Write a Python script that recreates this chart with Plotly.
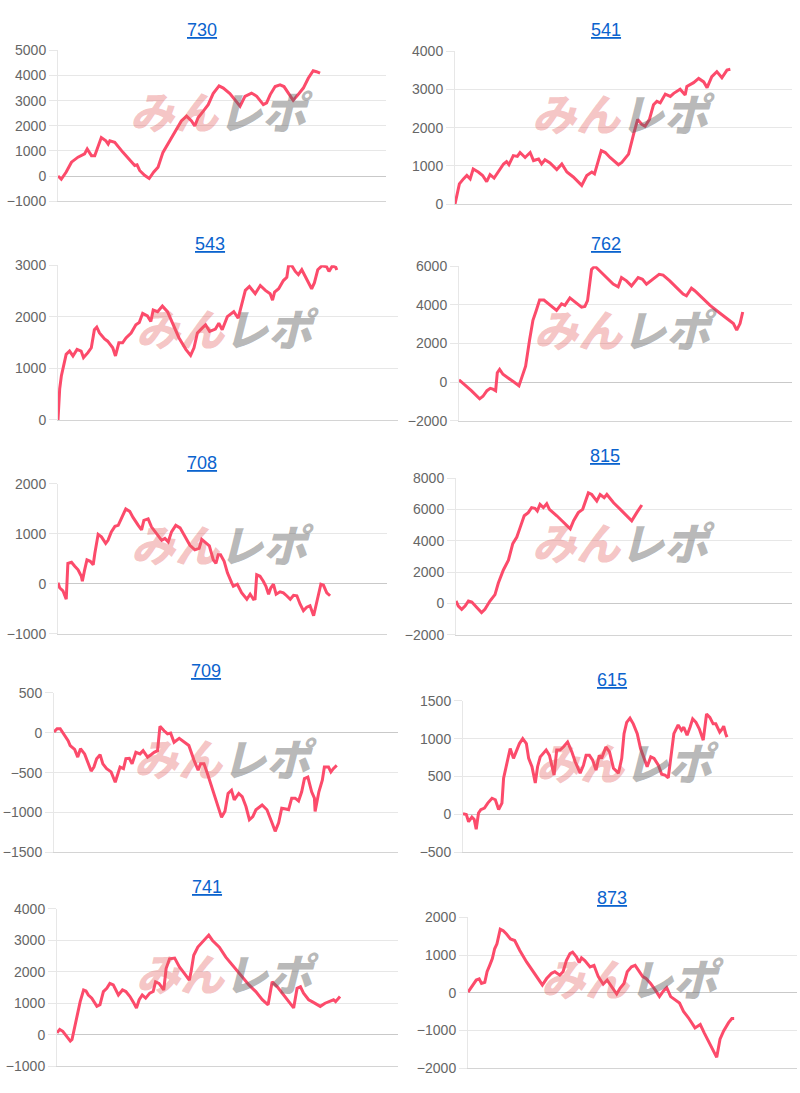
import plotly.graph_objects as go

# ---------------- data (x = position along the horizontal axis, 0..100) ----------------
titles = ["730", "541", "543", "762", "708", "815", "709", "615", "741", "873"]

pts_730 = [(0,0),(1.0,-130),(2.5,160),(4.1,550),(6.1,750),(8.1,880),(8.9,1075),(10.2,810),(11.2,810),(12.2,1140),(13.2,1530),(14.6,1400),(15.3,1270),(15.8,1400),(17.3,1340),(19.8,940),(22.4,550),(23.4,420),(24.1,445),(24.9,220),(26.4,26),(27.8,-100),(29.2,160),(30.5,350),(32.0,940),(34.1,1400),(36.1,1860),(37.6,2190),(39.2,2385),(40.7,2190),(41.7,1990),(42.7,2320),(44.3,2580),(45.8,2840),(47.3,3280),(49.1,3590),(50.4,3500),(52.4,3280),(53.9,3040),(55.5,2780),(57.0,3170),(59.0,3300),(60.6,3170),(62.6,2840),(63.6,2910),(64.7,3240),(66.2,3560),(67.7,3630),(68.9,3560),(70.2,3300),(71.7,3010),(73.2,3240),(74.8,3500),(76.3,3890),(77.8,4190),(78.8,4150),(79.9,4090)]

pts_541 = [(0,0),(0.7,320),(1.3,530),(2.5,660),(3.5,750),(4.5,660),(5.4,920),(6.9,840),(8.2,750),(9.4,590),(10.4,770),(11.6,680),(12.9,840),(14.4,1050),(15.3,1110),(16.0,1030),(17.3,1270),(18.5,1250),(19.3,1350),(20.8,1220),(22.3,1350),(23.3,1140),(24.8,1180),(25.7,1050),(26.7,1160),(28.2,1080),(30.2,905),(31.7,1050),(33.2,840),(35.1,710),(37.6,490),(39.1,750),(40.6,840),(41.4,790),(43.4,1400),(44.6,1350),(46.0,1220),(48.5,1030),(49.5,1090),(51.5,1310),(53.0,1830),(54.2,2220),(55.4,2090),(56.4,2040),(57.7,2220),(58.9,2600),(59.9,2690),(60.9,2650),(62.4,2880),(63.9,2820),(64.9,2900),(66.8,3010),(68.3,2860),(68.8,3080),(70.8,3180),(72.3,3290),(73.8,3200),(74.8,3050),(76.2,3340),(77.7,3470),(79.2,3310),(80.7,3510),(81.7,3530)]

pts_543 = [(0,0),(0.5,604),(1.0,858),(1.7,1049),(2.4,1271),(3.4,1335),(4.4,1240),(5.6,1367),(6.8,1335),(7.5,1208),(8.8,1303),(9.8,1399),(10.7,1748),(11.4,1799),(12.2,1685),(13.7,1570),(14.6,1526),(16.1,1399),(16.9,1240),(17.9,1494),(19.0,1494),(20.0,1589),(21.5,1685),(22.9,1844),(23.9,1888),(24.9,2066),(26.3,2015),(27.3,1907),(28.0,2130),(29.3,2098),(30.7,2206),(32.2,2098),(33.7,1875),(35.6,1589),(37.6,1367),(39.0,1252),(40.0,1399),(41.0,1685),(42.4,1780),(43.4,1844),(44.6,1716),(46.3,1761),(47.3,1875),(48.3,1748),(49.8,2003),(51.7,2098),(53.0,1971),(54.1,2257),(55.1,2511),(56.3,2587),(58.0,2447),(59.5,2606),(61.0,2511),(62.4,2447),(63.1,2320),(63.7,2479),(64.9,2543),(66.3,2702),(67.3,2765),(67.8,2987),(68.8,2987),(69.8,2879),(70.7,2816),(71.7,2911),(72.7,2784),(73.7,2657),(74.6,2543),(75.4,2657),(76.4,2911),(77.6,2987),(79.0,2968),(79.7,2879),(80.7,2987),(81.7,2956),(82.0,2905)]

pts_762 = [(0,120),(1.2,-50),(3.7,-440),(6.2,-860),(7.2,-730),(8.4,-440),(9.4,-320),(10.2,-360),(11.0,-440),(11.5,490),(12.2,660),(13.2,410),(14.7,240),(16.7,-20),(18.0,-190),(18.7,150),(20.0,830),(21.2,2190),(22.2,3200),(23.2,3710),(24.2,4250),(25.5,4250),(26.8,4050),(28.3,3850),(29.3,3710),(30.8,4050),(31.8,3970),(33.3,4360),(34.8,4140),(36.8,3880),(37.8,3920),(38.6,4220),(39.8,5830),(40.8,6000),(42.3,5750),(44.8,5320),(46.3,5070),(47.8,4930),(48.8,5410),(50.3,5240),(51.8,4980),(53.8,5410),(55.1,5320),(56.3,5070),(58.3,5320),(60.1,5580),(61.3,5540),(63.3,5240),(65.8,4810),(67.3,4560),(68.3,4470),(69.8,4860),(70.8,4730),(73.3,4310),(75.4,3970),(77.9,3630),(80.4,3290),(82.4,3030),(83.4,2690),(84.4,3030),(85.2,3630)]

pts_708 = [(0,20),(0.5,-80),(1.5,-140),(2.5,-310),(3.0,410),(4.1,430),(5.1,350),(6.1,280),(7.1,150),(7.4,50),(8.1,280),(8.8,480),(9.8,450),(10.7,380),(11.2,610),(12.2,990),(13.2,940),(14.5,810),(15.2,870),(16.2,1040),(17.3,1150),(18.3,1170),(19.0,1270),(20.6,1500),(21.8,1450),(22.8,1330),(24.4,1170),(25.4,1080),(26.1,1270),(27.4,1300),(28.4,1140),(29.9,1000),(31.5,870),(32.5,910),(33.5,840),(34.5,1040),(35.8,1170),(37.1,1120),(38.6,940),(40.1,770),(41.6,680),(42.9,710),(43.7,890),(45.0,820),(46.0,760),(47.2,480),(48.0,410),(48.7,580),(49.4,580),(50.5,450),(51.5,220),(52.8,20),(53.3,-50),(54.5,-10),(55.8,-180),(57.4,-310),(58.4,-210),(59.4,-310),(59.9,-300),(60.4,180),(61.4,150),(62.4,50),(63.2,-50),(64.0,-210),(64.7,-80),(65.5,-10),(66.3,-210),(67.5,-160),(68.5,-180),(69.5,-240),(70.6,-310),(71.6,-230),(72.6,-240),(73.6,-410),(74.6,-540),(75.6,-470),(76.6,-440),(77.7,-640),(78.7,-370),(79.9,-10),(80.7,-30),(81.7,-180),(82.7,-240)]

pts_815 = [(0,150),(0.7,-170),(1.7,-380),(2.7,-170),(3.7,150),(4.7,80),(6.2,-270),(7.6,-590),(8.6,-380),(10.1,150),(11.6,560),(12.6,1300),(14.1,2130),(15.6,2760),(16.9,3810),(18.1,4230),(19.1,4850),(20.3,5590),(21.5,5790),(22.5,6110),(23.5,6070),(24.2,5900),(25.0,6320),(26.0,6110),(27.0,6360),(27.8,6000),(30.0,5590),(32.0,5170),(34.0,4750),(35.0,5270),(36.4,5790),(37.7,6000),(39.4,7050),(40.4,6950),(41.9,6530),(42.9,6950),(44.1,6740),(44.9,6950),(46.9,6420),(48.9,6000),(50.8,5590),(52.3,5270),(53.8,5790),(55.3,6280)]

pts_709 = [(0,10),(0.9,50),(1.8,50),(3.1,-40),(4.1,-100),(4.7,-160),(6.0,-210),(6.9,-305),(7.7,-200),(8.9,-265),(9.8,-365),(10.8,-480),(11.6,-430),(12.4,-325),(13.4,-275),(14.2,-390),(15.3,-450),(16.6,-490),(17.8,-620),(18.5,-530),(19.2,-430),(20.2,-450),(20.9,-325),(21.9,-320),(22.7,-390),(23.8,-245),(25.0,-265),(25.9,-225),(27.2,-305),(28.2,-275),(29.1,-245),(30.1,-225),(30.8,80),(32.0,25),(33.0,-15),(33.9,-5),(34.9,-120),(36.4,-70),(37.8,-120),(39.2,-160),(40.7,-345),(41.9,-470),(42.6,-390),(43.6,-390),(44.6,-510),(46.0,-695),(47.4,-880),(48.7,-1060),(49.7,-985),(50.6,-760),(51.6,-720),(52.4,-840),(53.7,-760),(54.7,-800),(55.8,-925),(56.8,-1090),(57.8,-1050),(58.7,-965),(60.5,-905),(61.9,-965),(63.2,-1110),(64.3,-1235),(65.3,-1130),(66.2,-945),(67.4,-955),(68.2,-965),(69.1,-820),(70.1,-820),(71.1,-855),(72.0,-740),(72.8,-575),(73.8,-555),(74.9,-740),(75.7,-820),(75.9,-985),(77.0,-740),(78.0,-595),(78.6,-430),(79.8,-430),(80.5,-490),(81.2,-450),(82.2,-410)]

pts_615 = [(0,10),(1.0,0),(1.7,-95),(2.7,-35),(3.4,-65),(4.0,-195),(4.7,20),(5.4,65),(6.5,85),(7.5,150),(8.8,215),(9.8,195),(10.8,65),(11.8,150),(12.3,480),(13.3,695),(14.3,870),(15.3,740),(16.3,850),(17.1,935),(18.1,1000),(19.2,935),(19.9,740),(20.9,630),(21.9,415),(22.6,630),(23.4,760),(25.2,850),(26.2,780),(27.6,520),(28.4,850),(29.4,850),(30.4,890),(31.7,955),(33.0,825),(34.0,695),(35.5,545),(36.5,650),(37.3,780),(38.3,780),(39.3,715),(40.3,585),(41.3,780),(42.0,740),(43.3,890),(44.4,825),(45.6,610),(47.1,545),(48.1,740),(48.8,1065),(49.6,1215),(50.6,1270),(51.6,1195),(52.8,1065),(53.8,870),(54.8,740),(55.8,630),(56.9,760),(57.9,740),(59.2,650),(60.2,530),(61.2,520),(62.2,485),(63.2,825),(63.9,1065),(65.2,1180),(66.2,1110),(66.9,1150),(67.9,1045),(68.8,1150),(69.6,1260),(70.6,1215),(71.6,1130),(72.8,980),(73.8,1325),(74.8,1280),(75.8,1195),(76.6,1195),(77.8,1085),(78.6,1130),(79.0,1165),(79.6,1065),(80.0,1020)]

pts_741 = [(0,60),(0.8,170),(1.7,110),(2.7,-40),(3.9,-200),(4.4,-150),(5.0,170),(5.6,430),(6.3,850),(6.8,1050),(7.8,1420),(8.5,1390),(9.2,1260),(10.2,1160),(11.7,900),(12.6,950),(13.6,1370),(14.6,1470),(15.5,1630),(16.5,1580),(18.0,1260),(19.2,1420),(20.2,1370),(21.4,1210),(22.3,1050),(23.3,850),(24.1,1110),(25.0,1260),(26.0,1160),(27.2,1320),(28.2,1370),(28.9,1680),(29.9,1630),(31.3,1420),(32.0,2100),(33.0,2410),(34.5,2430),(35.9,2150),(37.4,1940),(38.8,1730),(39.3,1990),(40.1,2520),(41.3,2780),(42.2,2880),(43.5,3040),(44.5,3160),(45.6,2990),(47.6,2780),(49.5,2460),(51.5,2200),(53.9,1890),(56.3,1580),(58.3,1370),(60.2,1110),(61.9,950),(63.1,1680),(64.6,1520),(66.0,1320),(67.5,1110),(69.4,850),(70.4,1470),(71.4,1520),(72.3,1320),(73.8,1110),(74.8,1050),(76.2,950),(77.2,900),(78.6,1000),(80.1,1080),(81.1,1110),(81.7,1050),(82.5,1160),(83.0,1210)]

pts_873 = [(0,20),(0.7,120),(1.5,210),(2.5,340),(3.4,370),(4.1,250),(5.1,280),(5.8,560),(6.6,730),(7.4,910),(8.1,1170),(8.8,1300),(9.8,1690),(10.7,1650),(11.7,1560),(12.9,1430),(14.2,1390),(15.7,1130),(17.8,820),(19.8,560),(21.3,380),(22.6,210),(23.9,380),(25.4,520),(26.4,560),(27.9,470),(28.9,560),(29.9,860),(31.0,1040),(31.8,1080),(33.0,950),(33.8,800),(34.5,930),(35.5,860),(37.1,690),(38.3,730),(39.6,430),(41.1,230),(42.3,340),(43.7,170),(45.2,-30),(46.2,120),(47.4,250),(48.4,560),(49.7,690),(50.8,730),(51.8,600),(53.1,430),(54.1,380),(55.5,250),(56.9,80),(58.2,-100),(59.4,50),(60.4,140),(61.6,-100),(62.9,-180),(64.3,-270),(65.5,-490),(67.0,-660),(69.0,-930),(70.6,-840),(71.8,-1060),(73.6,-1360),(74.6,-1540),(75.6,-1710),(76.6,-1230),(77.7,-1010),(79.2,-790),(80.2,-680),(80.9,-680)]

series = [pts_730, pts_541, pts_543, pts_762, pts_708, pts_815, pts_709, pts_615, pts_741, pts_873]

y_ranges = [(-1000, 5000), (0, 4000), (0, 3000), (-2000, 6000), (-1000, 2000),
            (-2000, 8000), (-1500, 500), (-500, 1500), (-1000, 4000), (-2000, 2000)]
y_dticks = [1000, 1000, 1000, 2000, 1000, 2000, 500, 500, 1000, 1000]

# ---------------- layout (pixels) ----------------
W, H = 800, 1093
plot_boxes = [  # left, right, top, bottom
    (58, 386, 43, 196), (455, 792, 44, 199),
    (58, 398, 261, 418), (459, 792, 262, 419),
    (58, 387, 483, 635), (456, 792, 477, 636),
    (54, 398, 695, 857), (463, 793, 703, 857),
    (57, 398, 914, 1074), (468, 797, 923, 1076),
]
title_pos = [(202, 22), (606, 22), (210, 240), (606, 240), (202, 462),
             (605, 455), (206, 673), (612, 682), (207, 892), (612, 903)]

LINE = "#fc4b6b"
GRID = "#e7e7e7"
FONT = "Liberation Sans, Arial, Helvetica, sans-serif"

fig = go.Figure()
annotations = []
for i, pts in enumerate(series):
    n = i + 1
    xs = [p[0] for p in pts]
    ys = [p[1] for p in pts]
    fig.add_trace(go.Scatter(
        x=xs, y=ys, mode="lines", xaxis=f"x{n}", yaxis=f"y{n}",
        line=dict(color=LINE, width=3), hoverinfo="skip", showlegend=False,
    ))
    l, r, t, b = plot_boxes[i]
    xa = dict(domain=[l / W, r / W], range=[0, 100], showgrid=False, zeroline=False,
              showticklabels=False, showline=True, linecolor="#d4d4d4", linewidth=1,
              anchor=f"y{n}", fixedrange=True)
    ya = dict(domain=[1 - b / H, 1 - t / H], range=list(y_ranges[i]), dtick=y_dticks[i],
              tick0=0, showgrid=True, gridcolor=GRID, gridwidth=1,
              zeroline=True, zerolinecolor="#c9c9c9", zerolinewidth=1,
              showline=True, linecolor=GRID, linewidth=1,
              ticks="outside", ticklen=8, tickcolor=GRID, tickwidth=1,
              tickfont=dict(family=FONT, size=14, color="#666666"),
              anchor=f"x{n}", fixedrange=True)
    fig.update_layout({f"xaxis{n}": xa, f"yaxis{n}": ya})

    tx, ty = title_pos[i]
    annotations.append(dict(
        text=f"<u>{titles[i]}</u>", x=tx / W, y=1 - ty / H, xref="paper", yref="paper",
        showarrow=False, xanchor="center", yanchor="middle",
        font=dict(family=FONT, size=18, color="#0b63ce"),
    ))
    # watermark
    cx = (l + r) / 2
    cy = (t + b) / 2 - 16
    annotations.append(dict(
        text="<span style='color:rgba(226,90,90,0.36)'>みん</span>"
             "<span style='color:rgba(95,95,95,0.45)'>レポ</span>",
        x=cx / W, y=1 - cy / H, xref="paper", yref="paper", showarrow=False,
        xanchor="center", yanchor="middle",
        font=dict(family="Noto Sans CJK JP", size=44, weight=900, style="italic"),
    ))

fig.update_layout(
    width=W, height=H, margin=dict(l=0, r=0, t=0, b=0),
    paper_bgcolor="white", plot_bgcolor="white",
    annotations=annotations, showlegend=False,
)
fig.write_html("out.html", config={"displayModeBar": False})
